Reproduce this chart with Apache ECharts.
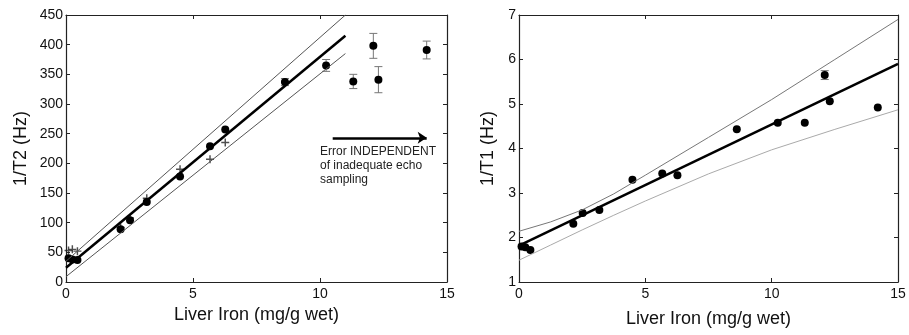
<!DOCTYPE html>
<html lang="en">
<head>
  <meta charset="UTF-8">
  <title>Liver iron vs 1/T2 and 1/T1</title>
  <script src="https://cdn.jsdelivr.net/npm/echarts@6/dist/echarts.min.js"></script>
  <style>
    html, body { margin: 0; padding: 0; background: #fff; }
  </style>
</head>
<body>
  <div id="chart" style="width: 909px;height: 335px;"></div>
  <script>
    const myEcharts = echarts.init(document.getElementById('chart'))

    // liver iron (mg/g wet), shared by both panels
    const iron = [0.1, 0.25, 0.45, 2.15, 2.52, 3.18, 4.49, 5.67, 6.27, 8.62, 10.24, 11.31, 12.1, 12.3, 14.2]
    // 1/T2 (Hz), filled circles, with error bars
    const r2 = [40, 38, 37, 89, 104, 135, 178, 229, 257, 337, 365, 338, 398, 341, 391]
    const r2Err = [0, 0, 0, 0, 0, 0, 0, 0, 0, 6, 10, 12, 21, 22, 15]
    // 1/T2 (Hz), "+" markers (inadequate echo sampling)
    const plusIron = [0.1, 0.25, 0.45, 2.15, 2.52, 3.18, 4.49, 5.67, 6.27]
    const r2Plus = [53, 55, 52, 92, 108, 141, 190, 207, 235]
    // 1/T2 fit and bounds
    const fitX = [0, 11]
    const r2Fit = [24, 415]
    const r2Upper = [35, 450]
    const r2Lower = [9, 385]

    // 1/T1 (Hz)
    const r1 = [1.80, 1.78, 1.72, 2.31, 2.55, 2.62, 3.30, 3.44, 3.40, 4.43, 4.58, 4.58, 5.65, 5.06, 4.92]
    const r1Err = [0, 0, 0, 0, 0, 0, 0, 0, 0, 0, 0, 0, 0.1, 0, 0]
    const r1FitX = [0, 15]
    const r1Fit = [1.82, 5.9]
    const bandX = [0, 1.25, 2.5, 3.75, 5, 7.5, 10, 12.5, 15]
    const r1Upper = [2.14, 2.35, 2.62, 2.98, 3.4, 4.25, 5.1, 6.0, 6.9]
    const r1Lower = [1.49, 1.83, 2.17, 2.5, 2.82, 3.43, 3.97, 4.43, 4.87]

    const pair = (xs, ys) => xs.map((x, i) => [x, ys[i]])
    const withErr = (xs, ys, es) => xs.map((x, i) => [x, ys[i], es[i]]).filter(d => d[2] > 0)

    const plusPath = 'path://M-0.18,-1H0.18V-0.18H1V0.18H0.18V1H-0.18V0.18H-1V-0.18H-0.18Z'
    const txt = '#111'
    const fontFamily = 'Liberation Sans, Arial, sans-serif'

    function errorBar(params, api) {
      const x = api.value(0)
      const y = api.value(1)
      const e = api.value(2)
      const hi = api.coord([x, y + e])
      const lo = api.coord([x, y - e])
      const w = 4
      const style = { stroke: '#777', lineWidth: 1 }
      return {
        type: 'group',
        children: [
          { type: 'line', shape: { x1: hi[0], y1: hi[1], x2: lo[0], y2: lo[1] }, style },
          { type: 'line', shape: { x1: hi[0] - w, y1: hi[1], x2: hi[0] + w, y2: hi[1] }, style },
          { type: 'line', shape: { x1: lo[0] - w, y1: lo[1], x2: lo[0] + w, y2: lo[1] }, style }
        ]
      }
    }

    const tickStyle = { show: true, inside: true, length: 4, lineStyle: { color: '#222' } }
    const lineStyle = { show: true, onZero: false, lineStyle: { color: '#222', width: 1.2 } }
    const labelStyle = { color: txt, fontSize: 14, fontFamily }
    const nameStyle = { color: txt, fontSize: 18, fontFamily }

    function xAxes(gridIndex) {
      return [
        {
          gridIndex, type: 'value', min: 0, max: 15, interval: 5,
          name: 'Liver Iron (mg/g wet)', nameLocation: 'middle', nameGap: gridIndex ? 28 : 22,
          nameTextStyle: nameStyle,
          axisLine: lineStyle, axisTick: tickStyle, splitLine: { show: false },
          axisLabel: { ...labelStyle, margin: 5 }
        },
        {
          gridIndex, type: 'value', min: 0, max: 15, interval: 5, position: 'top',
          axisLine: lineStyle, axisTick: tickStyle, splitLine: { show: false },
          axisLabel: { show: false }
        }
      ]
    }

    function yAxes(gridIndex, min, max, interval, name) {
      return [
        {
          gridIndex, type: 'value', min, max, interval,
          name, nameLocation: 'middle', nameGap: gridIndex ? 22 : 36,
          nameTextStyle: nameStyle,
          axisLine: lineStyle, axisTick: tickStyle, splitLine: { show: false },
          axisLabel: { ...labelStyle, margin: 3 }
        },
        {
          gridIndex, type: 'value', min, max, interval, position: 'right',
          axisLine: lineStyle, axisTick: tickStyle, splitLine: { show: false },
          axisLabel: { show: false }
        }
      ]
    }

    const option = {
      animation: false,
      backgroundColor: '#fff',
      grid: [
        { left: 66, top: 15, width: 381, height: 267 },
        { left: 519, top: 15, width: 379, height: 267 }
      ],
      xAxis: [...xAxes(0), ...xAxes(1)],
      yAxis: [...yAxes(0, 0, 450, 50, '1/T2 (Hz)'), ...yAxes(1, 1, 7, 1, '1/T1 (Hz)')],
      graphic: [
        {
          type: 'text', left: 320, top: 145,
          style: {
            text: 'Error INDEPENDENT\nof inadequate echo\nsampling',
            fill: '#222', fontSize: 12, lineHeight: 14, fontFamily
          }
        }
      ],
      series: [
        // left panel
        {
          type: 'line', xAxisIndex: 0, yAxisIndex: 0, data: pair(fitX, r2Upper),
          symbol: 'none', lineStyle: { color: '#555', width: 1 }
        },
        {
          type: 'line', xAxisIndex: 0, yAxisIndex: 0, data: pair(fitX, r2Lower),
          symbol: 'none', lineStyle: { color: '#555', width: 1 }
        },
        {
          type: 'line', xAxisIndex: 0, yAxisIndex: 0, data: pair(fitX, r2Fit),
          symbol: 'none', lineStyle: { color: '#000', width: 2.5 },
          markLine: {
            silent: true, symbol: ['none', 'arrow'], symbolSize: [9, 9],
            label: { show: false },
            lineStyle: { color: '#000', width: 2.5, type: 'solid' },
            data: [[{ coord: [10.5, 243] }, { coord: [14.2, 243] }]]
          }
        },
        {
          type: 'custom', xAxisIndex: 0, yAxisIndex: 0,
          data: withErr(iron, r2, r2Err), renderItem: errorBar
        },
        {
          type: 'scatter', xAxisIndex: 0, yAxisIndex: 0, data: pair(plusIron, r2Plus),
          symbol: plusPath, symbolSize: 8, itemStyle: { color: '#222' }
        },
        {
          type: 'scatter', xAxisIndex: 0, yAxisIndex: 0, data: pair(iron, r2),
          symbolSize: 8, itemStyle: { color: '#000', opacity: 1 }
        },
        // right panel
        {
          type: 'line', xAxisIndex: 2, yAxisIndex: 2, data: pair(bandX, r1Upper),
          symbol: 'none', lineStyle: { color: '#777', width: 1 }
        },
        {
          type: 'line', xAxisIndex: 2, yAxisIndex: 2, data: pair(bandX, r1Lower),
          symbol: 'none', lineStyle: { color: '#aaa', width: 1 }
        },
        {
          type: 'line', xAxisIndex: 2, yAxisIndex: 2, data: pair(r1FitX, r1Fit),
          symbol: 'none', lineStyle: { color: '#000', width: 2.5 }
        },
        {
          type: 'custom', xAxisIndex: 2, yAxisIndex: 2,
          data: withErr(iron, r1, r1Err), renderItem: errorBar
        },
        {
          type: 'scatter', xAxisIndex: 2, yAxisIndex: 2, data: pair(iron, r1),
          symbolSize: 8, itemStyle: { color: '#000', opacity: 1 }
        }
      ]
    }

    myEcharts.setOption(option)
  </script>
</body>
</html>
